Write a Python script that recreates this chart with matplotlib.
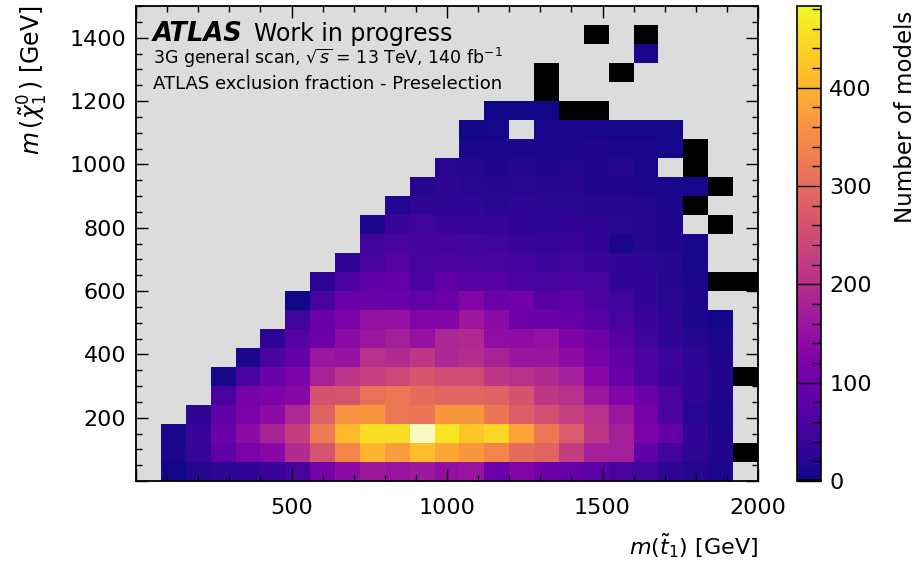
import numpy as np
import matplotlib
matplotlib.use("Agg")
import matplotlib.pyplot as plt
from matplotlib.colors import ListedColormap, Normalize
from matplotlib.ticker import MultipleLocator, FuncFormatter

NAN = np.nan

# bin edges [GeV]
X_EDGES = np.arange(0, 2001, 80)    # m(stop)
Y_EDGES = np.arange(0, 1501, 60)    # m(neutralino)

# number of models per bin, one list per m(chi) row, columns = m(stop) bins
# NAN = no models (grey), 0 = black cells
ROW_00 = [NAN, 5, 18, 25, 30, 40, 55, 110, 140, 165, 155, 165, 148, 155, 97, 130, 100, 90, 80, 55, 45, 30, 18, 10, NAN]
ROW_01 = [NAN, 10, 35, 85, 115, 135, 195, 265, 340, 405, 370, 415, 385, 365, 340, 300, 290, 225, 175, 172, 85, 45, 28, 15, 0]
ROW_02 = [NAN, 9, 40, 97, 140, 180, 225, 325, 410, 450, 452, 520, 460, 425, 445, 380, 320, 275, 215, 175, 120, 90, 32, 15, NAN]
ROW_03 = [NAN, NAN, 30, 80, 115, 140, 190, 285, 360, 365, 320, 318, 365, 365, 318, 278, 255, 230, 205, 160, 112, 58, 22, 12, NAN]
ROW_04 = [NAN, NAN, NAN, 55, 110, 120, 135, 262, 265, 310, 320, 300, 292, 292, 285, 262, 215, 205, 160, 125, 97, 62, 28, 14, NAN]
ROW_05 = [NAN, NAN, NAN, 6, 58, 95, 120, 180, 210, 230, 245, 265, 250, 250, 215, 205, 195, 172, 132, 95, 62, 40, 28, 15, 0]
ROW_06 = [NAN, NAN, NAN, NAN, 10, 58, 88, 160, 152, 205, 195, 215, 185, 198, 180, 158, 158, 140, 110, 85, 60, 42, 25, 14, NAN]
ROW_07 = [NAN, NAN, NAN, NAN, NAN, 28, 72, 100, 140, 160, 172, 152, 185, 192, 145, 143, 150, 120, 100, 72, 45, 30, 18, 10, NAN]
ROW_08 = [NAN, NAN, NAN, NAN, NAN, NAN, 45, 97, 115, 150, 152, 130, 125, 162, 140, 100, 100, 90, 72, 55, 40, 30, 12, 5, NAN]
ROW_09 = [NAN, NAN, NAN, NAN, NAN, NAN, 3, 58, 95, 97, 97, 90, 98, 125, 97, 105, 72, 85, 62, 45, 32, 22, 14, NAN, NAN]
ROW_10 = [NAN, NAN, NAN, NAN, NAN, NAN, NAN, 25, 62, 85, 88, 60, 86, 72, 72, 62, 55, 60, 55, 32, 28, 18, 10, 0, 0]
ROW_11 = [NAN, NAN, NAN, NAN, NAN, NAN, NAN, NAN, 28, 55, 70, 55, 61, 55, 55, 50, 42, 45, 40, 32, 25, 18, 8, NAN, NAN]
ROW_12 = [NAN, NAN, NAN, NAN, NAN, NAN, NAN, NAN, NAN, 48, 55, 52, 52, 48, 45, 40, 36, 40, 33, 13, 18, 15, 8, NAN, NAN]
ROW_13 = [NAN, NAN, NAN, NAN, NAN, NAN, NAN, NAN, NAN, 10, 40, 45, 40, 36, 34, 30, 30, 33, 28, 24, 20, 15, NAN, 0, NAN]
ROW_14 = [NAN, NAN, NAN, NAN, NAN, NAN, NAN, NAN, NAN, NAN, 18, 30, 30, 27, 24, 28, 24, 24, 20, 20, 16, 10, 0, NAN, NAN]
ROW_15 = [NAN, NAN, NAN, NAN, NAN, NAN, NAN, NAN, NAN, NAN, NAN, 18, 28, 22, 20, 22, 20, 20, 15, 15, 12, 8, 6, 0, NAN]
ROW_16 = [NAN, NAN, NAN, NAN, NAN, NAN, NAN, NAN, NAN, NAN, NAN, NAN, 22, 18, 15, 18, 15, 16, 15, 17, 13, NAN, 0, NAN, NAN]
ROW_17 = [NAN, NAN, NAN, NAN, NAN, NAN, NAN, NAN, NAN, NAN, NAN, NAN, NAN, 12, 12, 13, 12, 12, 14, 12, 10, 7, 0, NAN, NAN]
ROW_18 = [NAN, NAN, NAN, NAN, NAN, NAN, NAN, NAN, NAN, NAN, NAN, NAN, NAN, 5, 6, NAN, 10, 8, 8, 7, 7, 6, NAN, NAN, NAN]
ROW_19 = [NAN, NAN, NAN, NAN, NAN, NAN, NAN, NAN, NAN, NAN, NAN, NAN, NAN, NAN, 3, 3, 3, 0, 0, NAN, NAN, NAN, NAN, NAN, NAN]
ROW_20 = [NAN] * 16 + [0] + [NAN] * 8
ROW_21 = [NAN] * 16 + [0, NAN, NAN, 0] + [NAN] * 5
ROW_22 = [NAN] * 20 + [8] + [NAN] * 4
ROW_23 = [NAN] * 18 + [0, NAN, 0] + [NAN] * 4
ROW_24 = [NAN] * 25

ROWS = [ROW_00, ROW_01, ROW_02, ROW_03, ROW_04, ROW_05, ROW_06, ROW_07, ROW_08,
        ROW_09, ROW_10, ROW_11, ROW_12, ROW_13, ROW_14, ROW_15, ROW_16, ROW_17,
        ROW_18, ROW_19, ROW_20, ROW_21, ROW_22, ROW_23, ROW_24]

VMAX = 483

counts = np.ma.masked_invalid(np.array(ROWS, dtype=float))

colors = plt.cm.plasma(np.linspace(0, 1, 256))
colors[0] = (0, 0, 0, 1)
cmap = ListedColormap(colors)
cmap.set_over("#fcfcc2")

plt.rcParams["font.family"] = "DejaVu Sans"
plt.rcParams["mathtext.fontset"] = "dejavusans"

W, H = 923, 566
fig = plt.figure(figsize=(W / 100, H / 100), dpi=100)
ax = fig.add_axes([136 / W, 1 - 481 / H, 622 / W, 475 / H])
ax.set_facecolor("#dcdcdc")

mesh = ax.pcolormesh(X_EDGES, Y_EDGES, counts, cmap=cmap,
                     norm=Normalize(vmin=0, vmax=VMAX))
ax.set_xlim(0, 2000)
ax.set_ylim(0, 1500)

hide_zero = FuncFormatter(lambda v, p: "" if v == 0 else f"{v:g}")
ax.xaxis.set_major_locator(MultipleLocator(500))
ax.xaxis.set_minor_locator(MultipleLocator(100))
ax.yaxis.set_major_locator(MultipleLocator(200))
ax.yaxis.set_minor_locator(MultipleLocator(50))
ax.xaxis.set_major_formatter(hide_zero)
ax.yaxis.set_major_formatter(hide_zero)
ax.tick_params(which="both", direction="in", top=True, right=True, labelsize=16, width=1.0)
ax.tick_params(which="major", length=8.5)
ax.tick_params(which="minor", length=4.3)
ax.tick_params(axis="x", which="major", pad=12)
ax.tick_params(axis="y", which="major", pad=7)
for s in ax.spines.values():
    s.set_linewidth(1.3)

ax.set_xlabel(r"$m(\tilde{t}_1)$ [GeV]", fontsize=16, loc="right", labelpad=10)
ax.set_ylabel(r"$m\,(\tilde{\chi}_1^0\,)$ [GeV]", fontsize=17, loc="top", labelpad=14)

# ATLAS label
t1 = ax.text(0.027, 0.927, "ATLAS", transform=ax.transAxes, fontsize=18.5,
             fontweight="bold", fontstyle="italic", va="baseline")
fig.canvas.draw()
bb = t1.get_window_extent(fig.canvas.get_renderer())
x_next = ax.transAxes.inverted().transform((bb.x1 + 11, bb.y0))[0]
ax.text(x_next, 0.927, "Work in progress", transform=ax.transAxes, fontsize=17, va="baseline")
ax.text(0.027, 0.877, r"3G general scan, $\sqrt{s}$ = 13 TeV, 140 fb$^{-1}$",
        transform=ax.transAxes, fontsize=12.5, va="baseline")
ax.text(0.027, 0.825, "ATLAS exclusion fraction - Preselection",
        transform=ax.transAxes, fontsize=13, va="baseline")

# colour bar
cax = fig.add_axes([797 / W, 1 - 481 / H, 24 / W, 475 / H])
cbar = fig.colorbar(mesh, cax=cax)
cbar.outline.set_linewidth(1.2)
cbar.ax.yaxis.set_major_locator(MultipleLocator(100))
cbar.ax.yaxis.set_minor_locator(MultipleLocator(20))
cbar.ax.tick_params(which="both", direction="in", labelsize=16, width=1.0, pad=6)
cbar.ax.tick_params(which="major", length=17)
cbar.ax.tick_params(which="minor", length=6.5)
cbar.set_label("Number of models", fontsize=16.5, loc="top", labelpad=16)
cbar.ax.yaxis.label.set_y(0.99)

fig.savefig("out.png", dpi=100)
